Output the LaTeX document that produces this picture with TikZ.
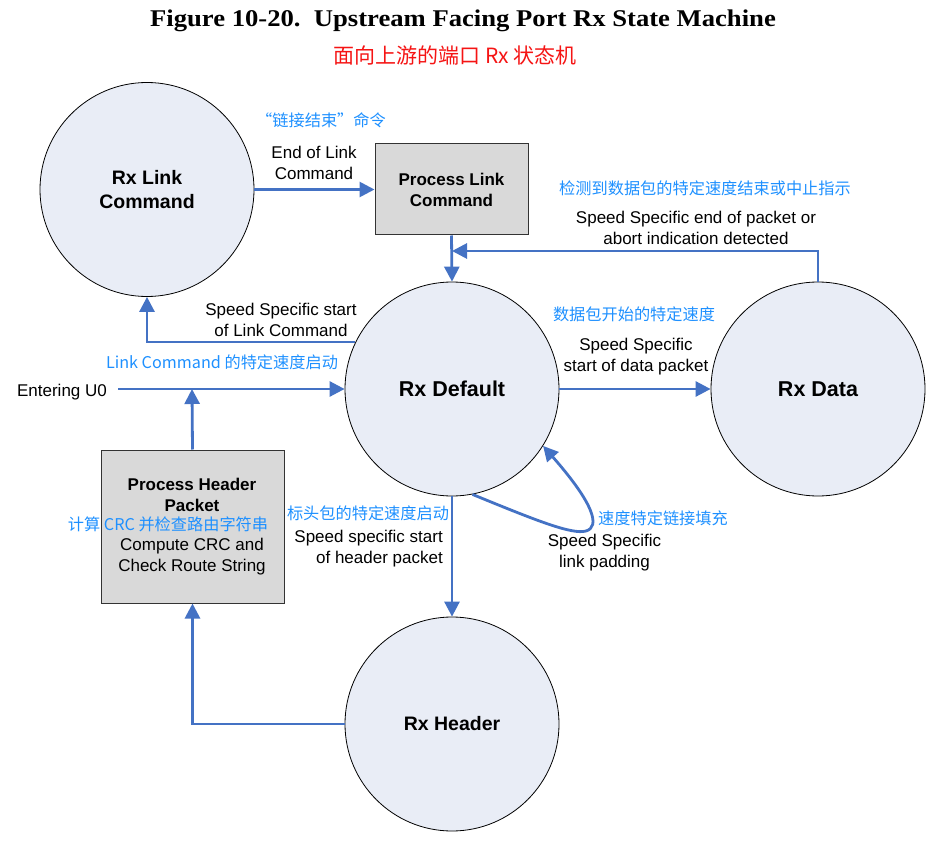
\documentclass[tikz,border=0pt]{standalone}
\usepackage{fontspec}
\setmainfont{Liberation Sans}
\newfontfamily\cjk{Noto Sans CJK SC}
\newfontfamily\titlefont{Liberation Serif}
\usetikzlibrary{arrows.meta}
\definecolor{lnblue}{RGB}{68,114,196}
\definecolor{cnblue}{RGB}{30,144,255}
\definecolor{cnred}{RGB}{245,20,20}
\definecolor{stfill}{RGB}{233,237,246}
\definecolor{boxfill}{RGB}{217,217,217}
\begin{document}
\begin{tikzpicture}[x=1pt,y=-1pt,
  state/.style={circle,draw=black,line width=0.8pt,fill=stfill,minimum size=214pt,inner sep=0pt,font=\fontsize{21.5}{25}\selectfont\bfseries,align=center},
  smallstate/.style={state,font=\fontsize{19.5}{23.5}\selectfont\bfseries},
  procbox/.style={rectangle,draw=black!80,line width=1pt,fill=boxfill,inner sep=0pt},
  conn/.style={draw=lnblue,line width=2.8pt,-{Triangle[length=15pt,width=15pt]}},
  lbl/.style={font=\fontsize{17}{21}\selectfont,align=center,inner sep=0pt},
  cnlbl/.style={font=\cjk\fontsize{16.2}{20}\selectfont,text=cnblue,inner sep=0pt}
]
\useasboundingbox (0,0) rectangle (943,853);

% titles
\node[inner sep=0pt,font=\titlefont\fontsize{24}{26}\selectfont\bfseries] (title) at (463,21) {\scalebox{1.11}[1]{Figure 10-20.\ \ Upstream Facing Port Rx State Machine}};
\node[inner sep=0pt,font=\cjk\fontsize{21}{24}\selectfont,text=cnred] (subtitle) at (455,56) {面向上游的端口 Rx 状态机};

% states
\node[smallstate] (lc) at (147,189.5) {Rx Link\\Command};
\node[state] (def) at (452,389) {Rx Default};
\node[state] (data) at (818,389) {Rx Data};
\node[smallstate] (hdr) at (452,724) {Rx Header};

% process boxes
\node[procbox,minimum width=153pt,minimum height=91pt,font=\fontsize{17}{21}\selectfont\bfseries,align=center] (pl) at (451.5,189.5) {Process Link\\Command};
\node[procbox,minimum width=183pt,minimum height=153pt] (ph) at (192.5,526.5) {};
\node[lbl,font=\fontsize{17}{21}\selectfont\bfseries] (phtitle) at (192,494.5) {Process Header\\Packet};
\node[cnlbl] (phcn) at (168,524) {计算 CRC 并检查路由字符串};
\node[lbl] (phtext) at (192,556.5) {Compute CRC and\\Check Route String};

% entering
\node[lbl] (u0) at (62,392) {Entering U0};
\coordinate (u0s) at (118,389);
\coordinate (join) at (192,389);
\coordinate (ret) at (452,251);

% connectors
\draw[conn] (lc.east) -- (pl.west);
\draw[conn] (pl.south) -- (def.north);
\draw[conn] (data.north) |- (ret);
\draw[conn] (def.154.5) -| (lc.south);
\draw[conn] (u0s) -- (def.west);
\draw[conn] (ph.north) -- (join);
\draw[conn] (def.east) -- (data.west);
\draw[conn] (def.south) -- (hdr.north);
\draw[conn] (hdr.west) -| (ph.south);
\draw[conn] (def.-79) .. controls (535,520) and (572,535) .. (586,531)
   .. controls (600,527) and (595,505) .. (def.-32);

% labels
\node[cnlbl] (c1) at (321,120) {“链接结束”命令};
\node[lbl] (l1) at (314,163) {End of Link\\Command};
\node[cnlbl] (c2) at (705,188) {检测到数据包的特定速度结束或中止指示};
\node[lbl] (l2) at (696,227.5) {Speed Specific end of packet or\\abort indication detected};
\node[lbl] (l3) at (281,320) {Speed Specific start\\of Link Command};
\node[cnlbl] (c3) at (222,362) {Link Command 的特定速度启动};
\node[cnlbl] (c4) at (634,314) {数据包开始的特定速度};
\node[lbl] (l4) at (636,356.5) {Speed Specific\\start of data packet};
\node[cnlbl] (c5) at (368,513) {标头包的特定速度启动};
\node[lbl,align=right,anchor=east] (l5) at (443,549) {Speed specific start\\of header packet};
\node[cnlbl] (c6) at (663,518) {速度特定链接填充};
\node[lbl] (l6) at (604.5,552.5) {Speed Specific\\link padding};
\end{tikzpicture}
\end{document}
